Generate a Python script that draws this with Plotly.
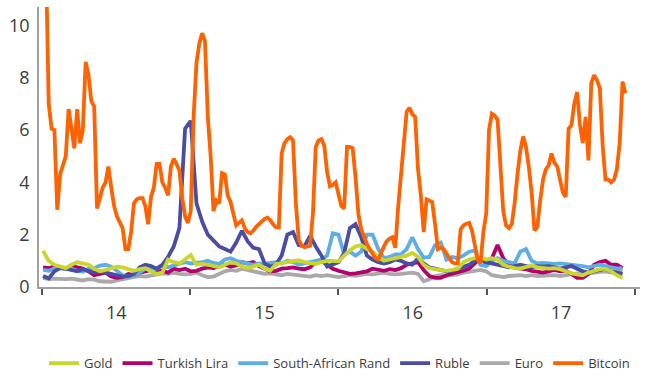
import pandas as pd
import plotly.graph_objects as go

# weekly dates (Bitcoin) and bi-weekly dates (other assets)
weekly_dates = pd.date_range("2014-01-03", periods=206, freq="7D")
biweekly_dates = pd.date_range("2014-01-03", periods=103, freq="14D")

bitcoin = [
    14.0, 12.5, 7.0, 6.05, 6.0, 2.95, 4.3, 4.6, 5.0, 6.8,
    6.1, 5.3, 6.8, 5.5, 6.0, 8.6, 8.1, 7.1, 6.9, 3.0,
    3.4, 3.8, 4.0, 4.6, 3.8, 3.1, 2.7, 2.45, 2.25, 1.45,
    1.45, 2.1, 3.2, 3.35, 3.4, 3.4, 3.1, 2.4, 3.45, 3.8,
    4.7, 4.7, 4.0, 3.8, 3.5, 4.6, 4.9, 4.7, 4.45, 3.4,
    2.7, 2.45, 2.9, 6.5, 8.55, 9.3, 9.7, 9.4, 6.5, 5.0,
    2.9, 3.3, 3.2, 4.35, 4.3, 3.5, 3.25, 2.8, 2.35, 2.45,
    2.55, 2.25, 2.1, 2.05, 2.15, 2.3, 2.4, 2.5, 2.6, 2.65,
    2.55, 2.4, 2.28, 2.28, 5.1, 5.5, 5.65, 5.72, 5.6, 3.2,
    1.8, 1.6, 1.52, 1.55, 1.57, 2.8, 5.35, 5.6, 5.65, 5.4,
    4.4, 3.85, 3.9, 4.0, 3.6, 3.1, 3.0, 5.35, 5.35, 5.3,
    4.2, 2.8, 2.2, 1.9, 1.65, 1.45, 1.25, 1.1, 1.05, 1.35,
    1.55, 1.75, 1.85, 1.9, 1.5, 3.05, 4.2, 5.6, 6.7, 6.85,
    6.6, 6.5, 4.5, 3.5, 2.1, 3.35, 3.3, 3.25, 2.4, 1.45,
    1.5, 1.45, 1.28, 1.1, 0.95, 0.9, 0.9, 2.2, 2.35, 2.42,
    2.45, 2.15, 1.5, 1.05, 0.9, 2.1, 2.8, 6.0, 6.62, 6.55,
    6.4, 4.4, 2.9, 2.35, 2.25, 2.4, 3.2, 4.3, 5.2, 5.75,
    5.35, 4.6, 3.6, 2.16, 2.3, 3.3, 4.1, 4.5, 4.65, 5.1,
    4.75, 4.6, 4.1, 3.6, 3.44, 6.05, 6.18, 7.0, 7.45, 6.2,
    5.5, 6.5, 4.84, 7.8, 8.1, 7.9, 7.6, 5.4, 4.1, 4.1,
    4.0, 4.1, 4.5, 5.5, 7.85, 7.4,
]

ruble = [
    0.42, 0.33, 0.6, 0.72, 0.7, 0.65, 0.6, 0.68, 0.62, 0.55,
    0.6, 0.55, 0.5, 0.45, 0.4, 0.42, 0.5, 0.75, 0.85, 0.8,
    0.7, 0.85, 1.15, 1.55, 2.25, 6.05, 6.35, 3.2, 2.5, 2.0,
    1.75, 1.55, 1.45, 1.35, 1.7, 2.15, 1.75, 1.5, 1.45, 0.9,
    0.78, 0.85, 1.2, 2.0, 2.1, 1.6, 1.55, 1.95, 1.55, 1.2,
    0.78, 0.85, 0.95, 1.3, 2.25, 2.4, 1.9, 1.2, 1.05, 0.95,
    0.9, 0.95, 1.05, 1.0, 0.9, 0.85, 1.1, 0.9, 0.75, 0.7,
    0.65, 0.6, 0.62, 0.7, 0.8, 0.85, 1.0, 1.1, 0.95, 0.9,
    0.85, 0.8, 0.75, 0.8, 0.85, 0.8, 0.75, 0.8, 0.78, 0.8,
    0.75, 0.7, 0.75, 0.8, 0.7, 0.6, 0.55, 0.6, 0.65, 0.7,
    0.6, 0.55, 0.5,
]

rand = [
    0.65, 0.62, 0.7, 0.75, 0.68, 0.7, 0.62, 0.58, 0.7, 0.72,
    0.82, 0.85, 0.78, 0.6, 0.45, 0.4, 0.45, 0.55, 0.7, 0.65,
    0.7, 0.8, 0.75, 0.82, 0.9, 0.95, 0.9, 0.92, 0.95, 1.0,
    0.92, 0.88, 1.05, 1.1, 1.0, 0.95, 0.9, 0.85, 0.9, 0.88,
    0.92, 0.95, 0.9, 1.0, 0.95, 0.85, 0.9, 0.95, 1.0, 1.05,
    1.2, 2.05, 2.0, 1.25, 1.35, 1.2, 1.35, 2.0, 2.0, 1.45,
    1.1, 1.15, 1.25, 1.25, 1.45, 1.9, 1.45, 1.12, 1.15, 1.6,
    1.7, 1.05, 1.15, 1.1, 1.2, 1.35, 1.4, 0.85, 0.8, 1.0,
    1.1, 1.0, 0.95, 0.9, 1.35, 1.45, 1.0, 0.9, 0.92, 0.9,
    0.88, 0.9, 0.88, 0.85, 0.82, 0.8, 0.75, 0.8, 0.85, 0.8,
    0.75, 0.7, 0.72,
]

lira = [
    0.75, 0.72, 0.78, 0.75, 0.7, 0.8, 0.75, 0.7, 0.6, 0.45,
    0.5, 0.55, 0.4, 0.35, 0.38, 0.5, 0.45, 0.55, 0.6, 0.65,
    0.6, 0.62, 0.55, 0.7, 0.65, 0.7, 0.6, 0.62, 0.7, 0.75,
    0.72, 0.8, 0.85, 0.78, 0.82, 0.95, 0.9, 0.95, 0.8, 0.7,
    0.6, 0.62, 0.7, 0.72, 0.75, 0.7, 0.68, 0.75, 0.95, 1.0,
    0.85, 0.7, 0.62, 0.55, 0.5, 0.52, 0.55, 0.6, 0.7, 0.65,
    0.62, 0.68, 0.65, 0.72, 0.85, 0.9, 0.95, 0.65, 0.42, 0.35,
    0.35, 0.45, 0.5, 0.55, 0.62, 0.7, 0.9, 1.1, 0.9, 1.1,
    1.6, 1.1, 0.85, 0.75, 0.7, 0.68, 0.62, 0.6, 0.55, 0.6,
    0.65, 0.6, 0.62, 0.5, 0.35, 0.35, 0.5, 0.85, 0.95, 1.0,
    0.85, 0.85, 0.72,
]

euro = [
    0.35, 0.3, 0.32, 0.3, 0.3, 0.32, 0.28, 0.25, 0.3, 0.28,
    0.22, 0.2, 0.2, 0.25, 0.3, 0.35, 0.4, 0.42, 0.4, 0.45,
    0.5, 0.52, 0.5, 0.55, 0.5, 0.48, 0.5, 0.55, 0.45, 0.38,
    0.4, 0.5, 0.6, 0.65, 0.62, 0.7, 0.65, 0.6, 0.55, 0.5,
    0.52, 0.48, 0.45, 0.5, 0.48, 0.45, 0.42, 0.4, 0.45, 0.42,
    0.45, 0.4, 0.38, 0.42, 0.45, 0.43, 0.48, 0.5, 0.48, 0.52,
    0.55, 0.5, 0.48, 0.5, 0.52, 0.55, 0.5, 0.22, 0.3, 0.42,
    0.45, 0.43, 0.45, 0.48, 0.55, 0.6, 0.62, 0.65, 0.6, 0.45,
    0.4, 0.38, 0.42, 0.45, 0.45, 0.42, 0.45, 0.42, 0.44, 0.46,
    0.45, 0.42, 0.45, 0.5, 0.52, 0.48, 0.5, 0.55, 0.58, 0.6,
    0.55, 0.58, 0.6,
]

gold = [
    1.38, 1.0, 0.85, 0.8, 0.72, 0.85, 0.95, 0.9, 0.85, 0.7,
    0.6, 0.65, 0.72, 0.78, 0.75, 0.7, 0.62, 0.68, 0.72, 0.6,
    0.5, 0.55, 1.05, 0.95, 0.9, 1.05, 1.22, 0.85, 0.88, 0.85,
    0.8, 0.75, 0.85, 0.95, 0.9, 0.78, 0.72, 0.8, 0.85, 0.7,
    0.62, 0.88, 0.92, 0.95, 0.98, 1.02, 0.95, 0.9, 0.88, 0.95,
    1.0, 1.0, 0.98, 1.2, 1.4, 1.55, 1.6, 1.45, 1.35, 1.15,
    1.0, 1.05, 1.1, 1.15, 1.2, 1.3, 1.15, 0.85, 0.72, 0.68,
    0.65, 0.62, 0.65, 0.7, 0.95, 1.05, 1.1, 1.12, 1.05, 1.1,
    1.05, 0.85, 0.78, 0.72, 0.7, 0.75, 0.82, 0.75, 0.72, 0.7,
    0.72, 0.68, 0.6, 0.52, 0.48, 0.45, 0.55, 0.62, 0.68, 0.7,
    0.6, 0.45, 0.35,
]

first_year_tick = "2014-01-01"
y_ticks = [0, 2, 4, 6, 8, 10]

FONT = "Open Sans"
TXT = "#3c3c3c"

series = [
    # name, x, y, colour, legend rank (draw order = list order)
    ("Euro", biweekly_dates, euro, "#a9a9a9", 5),
    ("Turkish Lira", biweekly_dates, lira, "#b4006c", 2),
    ("South-African Rand", biweekly_dates, rand, "#5eaee6", 3),
    ("Ruble", biweekly_dates, ruble, "#4b4ca3", 4),
    ("Gold", biweekly_dates, gold, "#c9d62c", 1),
    ("Bitcoin", weekly_dates, bitcoin, "#ff6200", 6),
]

fig = go.Figure()
for name, xs, ys, col, rank in series:
    fig.add_trace(go.Scatter(
        x=xs, y=ys, name=name, mode="lines",
        line=dict(color=col, width=3.8),
        legendrank=rank, hoverinfo="skip",
    ))

fig.update_layout(
    width=666, height=380,
    margin=dict(l=39, r=26, t=7, b=93, autoexpand=False),
    paper_bgcolor="white", plot_bgcolor="white",
    font=dict(family=FONT, color=TXT),
    showlegend=True,
    legend=dict(
        orientation="h", x=0.5, xanchor="center", y=-0.272, yanchor="middle",
        font=dict(size=13, color=TXT, family=FONT),
        itemwidth=30, tracegroupgap=0,
    ),
)

fig.update_xaxes(
    type="date",
    range=["2013-12-24", "2018-01-13"],
    tick0=first_year_tick, dtick="M12",
    ticklabelmode="period",
    tickformat="%y",
    ticks="outside", ticklen=6, tickwidth=1.5, tickcolor="#555555",
    ticklabelstandoff=3,
    showline=True, linecolor="#a0a0a0", linewidth=1.5,
    showgrid=False, zeroline=False, automargin=False,
    tickfont=dict(size=18, color=TXT, family=FONT),
)
fig.update_yaxes(
    range=[0, 10.7],
    tickvals=y_ticks,
    ticks="outside", ticklen=4, tickcolor="rgba(0,0,0,0)",
    showline=True, linecolor="#a0a0a0", linewidth=1.5,
    showgrid=False, zeroline=False, automargin=False,
    tickfont=dict(size=18, color=TXT, family=FONT),
)

fig.write_html(
    "out.html",
    config={"displayModeBar": False},
    post_script="document.body.style.margin='0px';",
)
